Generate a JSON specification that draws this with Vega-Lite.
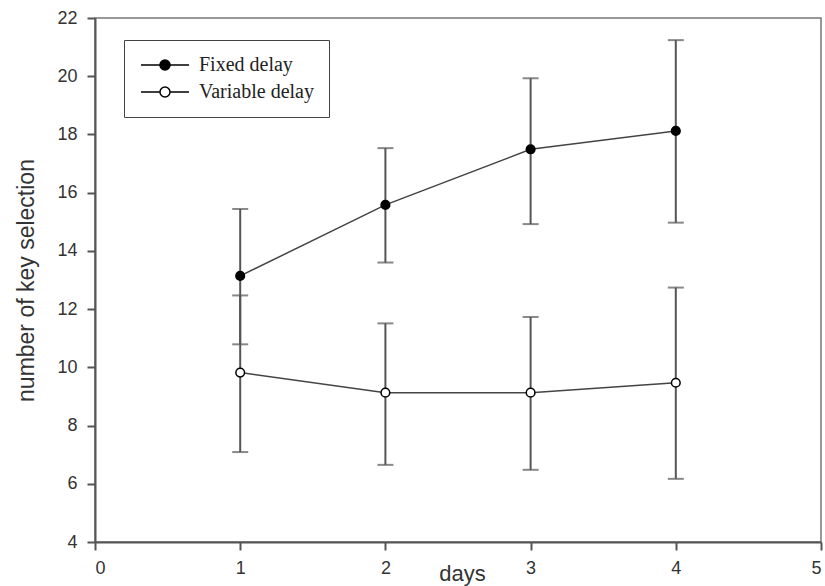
{
  "$schema": "https://vega.github.io/schema/vega-lite/v6.json",
  "width": 726,
  "height": 524,
  "autosize": {"type": "none"},
  "padding": {"left": 95, "top": 18, "right": 4, "bottom": 44},
  "background": "white",
  "config": {
    "view": {"stroke": "#777", "strokeWidth": 1.5},
    "axis": {
      "grid": false,
      "domainColor": "#555",
      "domainWidth": 2,
      "tickColor": "#555",
      "tickWidth": 2,
      "tickSize": 8,
      "labelFont": "Liberation Sans",
      "labelFontSize": 18,
      "labelColor": "#333",
      "titleFont": "Liberation Sans",
      "titleFontWeight": "normal",
      "titleColor": "#333"
    }
  },
  "data": {
    "values": [
      {"day": 1, "group": "Fixed delay", "mean": 13.14, "lo": 10.79, "hi": 15.44},
      {"day": 2, "group": "Fixed delay", "mean": 15.58, "lo": 13.6, "hi": 17.53},
      {"day": 3, "group": "Fixed delay", "mean": 17.49, "lo": 14.92, "hi": 19.93},
      {"day": 4, "group": "Fixed delay", "mean": 18.12, "lo": 14.97, "hi": 21.24},
      {"day": 1, "group": "Variable delay", "mean": 9.82, "lo": 7.09, "hi": 12.47},
      {"day": 2, "group": "Variable delay", "mean": 9.13, "lo": 6.65, "hi": 11.51},
      {"day": 3, "group": "Variable delay", "mean": 9.13, "lo": 6.48, "hi": 11.73},
      {"day": 4, "group": "Variable delay", "mean": 9.47, "lo": 6.17, "hi": 12.74}
    ]
  },
  "encoding": {
    "x": {
      "field": "day",
      "type": "quantitative",
      "scale": {"domain": [0, 5], "nice": false, "zero": false},
      "axis": {
        "values": [0, 1, 2, 3, 4, 5],
        "labelPadding": 9,
        "title": "days",
        "titleFontSize": 22,
        "titleX": 367,
        "titleY": 38,
        "titleAlign": "center",
        "titleAnchor": null,
        "titleBaseline": "alphabetic"
      }
    }
  },
  "layer": [
    {
      "mark": {"type": "rule", "color": "#555", "strokeWidth": 2},
      "encoding": {
        "y": {
          "field": "lo",
          "type": "quantitative",
          "scale": {"domain": [4, 22], "nice": false, "zero": false},
          "axis": {
            "values": [4, 6, 8, 10, 12, 14, 16, 18, 20, 22],
            "labelPadding": 10,
            "title": "number of key selection",
            "titleFontSize": 23,
            "titleX": -69,
            "titleBaseline": "middle"
          }
        },
        "y2": {"field": "hi"}
      }
    },
    {
      "mark": {"type": "tick", "orient": "horizontal", "color": "#555", "size": 16, "thickness": 2},
      "encoding": {"y": {"field": "hi", "type": "quantitative"}}
    },
    {
      "mark": {"type": "tick", "orient": "horizontal", "color": "#555", "size": 16, "thickness": 2},
      "encoding": {"y": {"field": "lo", "type": "quantitative"}}
    },
    {
      "mark": {"type": "line", "color": "#444", "strokeWidth": 1.5},
      "encoding": {
        "y": {"field": "mean", "type": "quantitative"},
        "detail": {"field": "group"}
      }
    },
    {
      "mark": {"type": "point", "shape": "circle", "size": 75, "stroke": "black", "strokeWidth": 1.5, "opacity": 1},
      "encoding": {
        "y": {"field": "mean", "type": "quantitative"},
        "fill": {
          "field": "group",
          "type": "nominal",
          "scale": {"domain": ["Fixed delay", "Variable delay"], "range": ["black", "white"]},
          "legend": {
            "title": null,
            "orient": "none",
            "legendX": 29,
            "legendY": 22,
            "padding": 15,
            "strokeColor": "#444",
            "fillColor": "white",
            "symbolType": "M-4.8,0H-1M1,0H4.8M-1,0A1,1,0,1,1,1,0A1,1,0,1,1,-1,0Z",
            "symbolSize": 100,
            "symbolOffset": 16,
            "symbolStrokeColor": "black",
            "symbolStrokeWidth": 1.5,
            "symbolOpacity": 1,
            "labelOffset": 24,
            "labelLimit": 400,
            "labelFont": "Liberation Serif",
            "labelFontSize": 20,
            "labelColor": "#222",
            "rowPadding": 7,
            "labelExpr": "pad(datum.label, 24, '\u00a0', 'right')"
          }
        }
      }
    }
  ]
}
